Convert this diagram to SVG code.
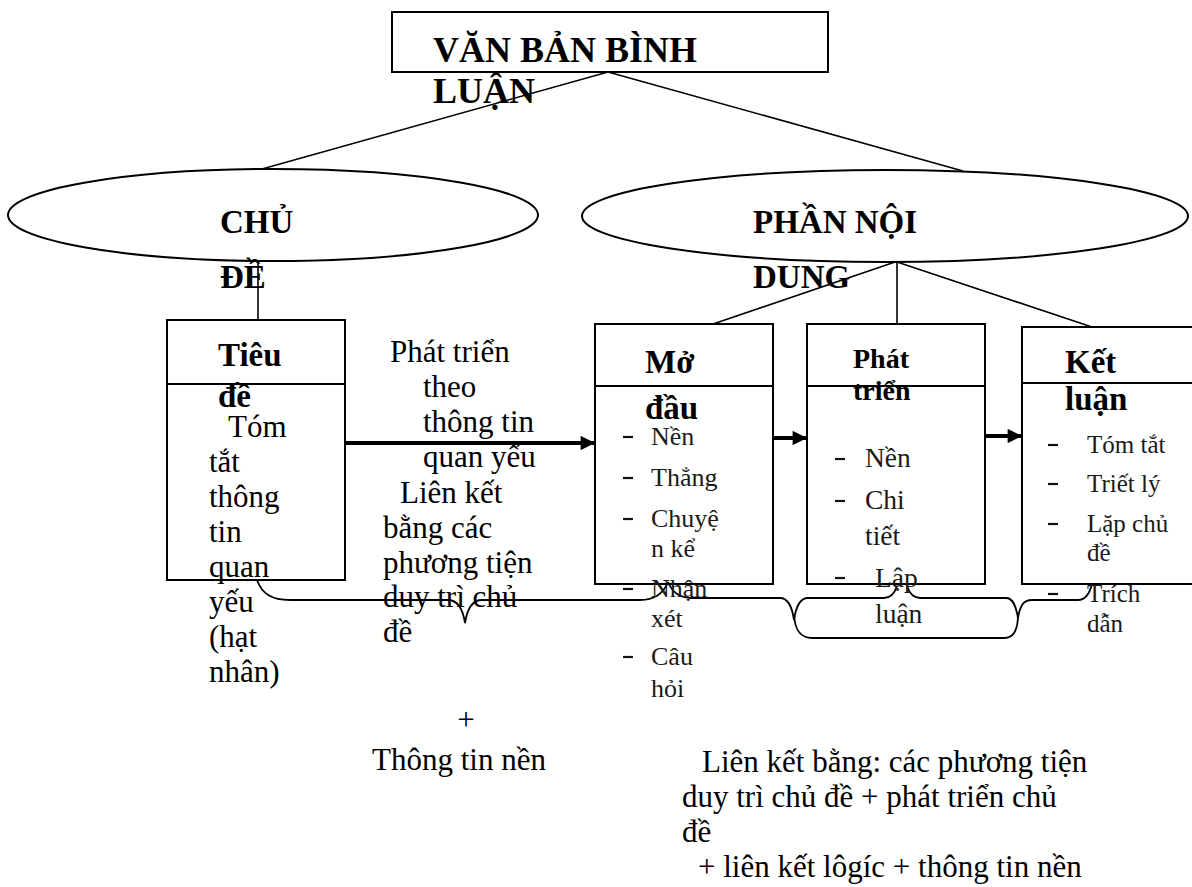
<svg xmlns="http://www.w3.org/2000/svg" width="1192" height="887" viewBox="0 0 1192 887">
<style>
  .shape{fill:none;stroke:#000;stroke-width:2}
  .ln{fill:none;stroke:#000;stroke-width:1.6}
  .thick{fill:none;stroke:#000;stroke-width:4}
  .brace{fill:none;stroke:#000;stroke-width:1.8}
  text{font-family:"Liberation Serif","Times New Roman",serif;fill:#000}
  .title{font-size:36px;font-weight:bold}
  .hd{font-size:33px;font-weight:bold}
  .hds{font-size:28px;font-weight:bold}
  .body{font-size:31px}
  .li{font-size:26px;fill:#1a1a1a}
  .li2{font-size:27.5px;fill:#1a1a1a}
  .li3{font-size:25px;fill:#1a1a1a}
  .dash{stroke:#111;stroke-width:2.2}
</style>
<defs>
  <marker id="ah" viewBox="0 0 10 10" refX="10" refY="5" markerWidth="4.2" markerHeight="3.6" orient="auto" markerUnits="strokeWidth">
    <path d="M0,0 L10,5 L0,10 z" fill="#000"/>
  </marker>
</defs>
<rect width="1192" height="887" fill="#fff"/>

<g id="connectors">
  <line class="ln" x1="608" y1="72" x2="262" y2="169"/>
  <line class="ln" x1="608" y1="72" x2="963" y2="171"/>
  <line class="ln" x1="258" y1="262" x2="258" y2="320"/>
  <line class="ln" x1="895" y1="262" x2="713" y2="324"/>
  <line class="ln" x1="897" y1="262" x2="897" y2="324"/>
  <line class="ln" x1="897" y1="262" x2="1092" y2="327"/>
  <line class="thick" x1="345" y1="443" x2="595" y2="443" marker-end="url(#ah)"/>
  <line class="thick" x1="773" y1="438" x2="807" y2="438" marker-end="url(#ah)"/>
  <line class="thick" x1="985" y1="436" x2="1022" y2="436" marker-end="url(#ah)"/>
  <path class="brace" d="M257,580 C262,594 272,600 290,600 L448,600 C458,600 463,610 465,623 C467,610 472,600 482,600 L640,600 C655,600 664,592 668,582"/>
  <path class="brace" d="M668,582 C672,592 680,598 692,598 L780,598 C788,598 792,606 794,620 C796,606 800,598 808,598 L884,598 C892,598 895,592 897,586"/>
  <path class="brace" d="M907,586 C909,592 912,598 920,598 L1006,598 C1013,598 1016,606 1018,618 C1020,606 1023,600 1032,600 L1078,600 C1086,600 1090,592 1092,584"/>
  <path class="brace" d="M794,615 C795,630 800,638 812,638 L1004,638 C1014,638 1018,630 1018,615"/>
</g>

<g id="node-van-ban">
  <rect class="shape" x="392" y="12" width="436" height="60"/>
  <text class="title" x="433" y="62">VĂN BẢN BÌNH</text>
  <text class="title" x="433" y="103">LUẬN</text>
</g>

<g id="node-chu-de">
  <ellipse class="shape" cx="273" cy="215" rx="265" ry="46"/>
  <text class="hd" x="220" y="233">CHỦ</text>
  <text class="hd" x="220" y="288">ĐỀ</text>
</g>

<g id="node-phan-noi-dung">
  <ellipse class="shape" cx="885" cy="216" rx="303" ry="46"/>
  <text class="hd" x="753" y="233">PHẦN NỘI</text>
  <text class="hd" x="753" y="288">DUNG</text>
</g>

<g id="node-tieu-de">
  <rect class="shape" x="167" y="320" width="178" height="260"/>
  <line class="shape" x1="167" y1="384" x2="345" y2="384"/>
  <text class="hd" x="218" y="366">Tiêu</text>
  <text class="hd" x="218" y="407">đề</text>
  <text class="body" x="228" y="437">Tóm</text>
  <text class="body" x="209" y="472">tắt</text>
  <text class="body" x="209" y="507">thông</text>
  <text class="body" x="209" y="542">tin</text>
  <text class="body" x="209" y="577">quan</text>
  <text class="body" x="209" y="612">yếu</text>
  <text class="body" x="209" y="647">(hạt</text>
  <text class="body" x="209" y="682">nhân)</text>
</g>

<g id="label-mid">
  <text class="body" x="390" y="362">Phát triển</text>
  <text class="body" x="423" y="397">theo</text>
  <text class="body" x="423" y="432">thông tin</text>
  <text class="body" x="423" y="467">quan yếu</text>
  <text class="body" x="400" y="503">Liên kết</text>
  <text class="body" x="383" y="538">bằng các</text>
  <text class="body" x="383" y="573">phương tiện</text>
  <text class="body" x="383" y="607">duy trì chủ</text>
  <text class="body" x="383" y="642">đề</text>
</g>

<g id="node-mo-dau">
  <rect class="shape" x="595" y="324" width="178" height="260"/>
  <line class="shape" x1="595" y1="386" x2="773" y2="386"/>
  <text class="hd" x="645" y="373">Mở</text>
  <text class="hd" x="645" y="419">đầu</text>
  <line class="dash" x1="623" y1="437" x2="633" y2="437"/>
  <text class="li" x="651" y="445">Nền</text>
  <line class="dash" x1="623" y1="478" x2="633" y2="478"/>
  <text class="li" x="651" y="486">Thẳng</text>
  <line class="dash" x1="623" y1="519" x2="633" y2="519"/>
  <text class="li" x="651" y="527">Chuyệ</text>
  <text class="li" x="651" y="557">n kể</text>
  <line class="dash" x1="623" y1="589" x2="633" y2="589"/>
  <text class="li" x="651" y="597">Nhận</text>
  <text class="li" x="651" y="627">xét</text>
  <line class="dash" x1="623" y1="657" x2="633" y2="657"/>
  <text class="li" x="651" y="665">Câu</text>
  <text class="li" x="651" y="697">hỏi</text>
</g>

<g id="node-phat-trien">
  <rect class="shape" x="807" y="324" width="178" height="260"/>
  <line class="shape" x1="807" y1="386" x2="985" y2="386"/>
  <text class="hds" x="853" y="368">Phát</text>
  <text class="hds" x="853" y="400">triển</text>
  <line class="dash" x1="835" y1="459" x2="845" y2="459"/>
  <text class="li2" x="865" y="467">Nền</text>
  <line class="dash" x1="835" y1="501" x2="845" y2="501"/>
  <text class="li2" x="865" y="509">Chi</text>
  <text class="li2" x="865" y="545">tiết</text>
  <line class="dash" x1="835" y1="578" x2="845" y2="578"/>
  <text class="li2" x="875" y="587">Lập</text>
  <text class="li2" x="875" y="623">luận</text>
</g>

<g id="node-ket-luan">
  <rect class="shape" x="1022" y="327" width="180" height="257"/>
  <line class="shape" x1="1022" y1="383" x2="1192" y2="383"/>
  <text class="hd" x="1065" y="373">Kết</text>
  <text class="hd" x="1065" y="410">luận</text>
  <line class="dash" x1="1048" y1="445" x2="1058" y2="445"/>
  <text class="li3" x="1087" y="453">Tóm tắt</text>
  <line class="dash" x1="1048" y1="484" x2="1058" y2="484"/>
  <text class="li3" x="1087" y="492">Triết lý</text>
  <line class="dash" x1="1048" y1="524" x2="1058" y2="524"/>
  <text class="li3" x="1087" y="532">Lặp chủ</text>
  <text class="li3" x="1087" y="561">đề</text>
  <line class="dash" x1="1048" y1="594" x2="1058" y2="594"/>
  <text class="li3" x="1087" y="602">Trích</text>
  <text class="li3" x="1087" y="632">dẫn</text>
</g>

<g id="label-bottom-left">
  <text class="body" x="466" y="730" text-anchor="middle">+</text>
  <text class="body" x="372" y="770">Thông tin nền</text>
</g>

<g id="label-bottom-right">
  <text class="body" x="702" y="772">Liên kết bằng: các phương tiện</text>
  <text class="body" x="682" y="807">duy trì chủ đề + phát triển chủ</text>
  <text class="body" x="682" y="842">đề</text>
  <text class="body" x="698" y="877">+ liên kết lôgíc + thông tin nền</text>
</g>
</svg>
